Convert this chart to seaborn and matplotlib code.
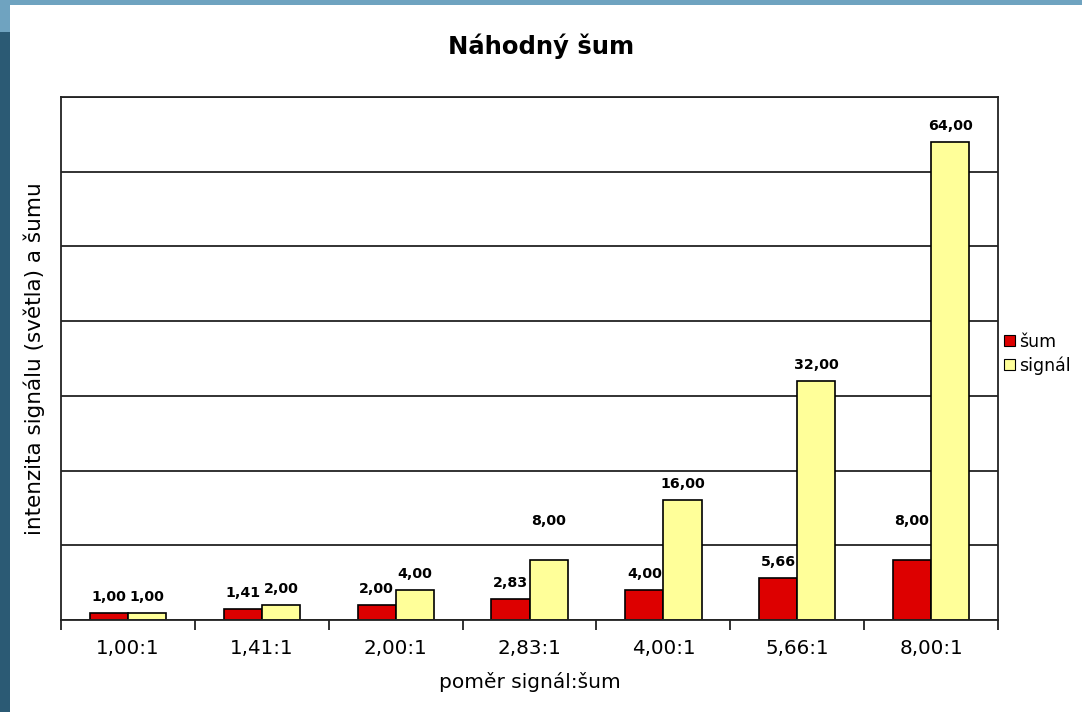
import matplotlib
matplotlib.use("Agg")
import matplotlib.pyplot as plt
from matplotlib.patches import Rectangle
import seaborn as sns
import pandas as pd
import numpy as np

categories = ["1,00:1", "1,41:1", "2,00:1", "2,83:1", "4,00:1", "5,66:1", "8,00:1"]
noise = [1.00, 1.41, 2.00, 2.83, 4.00, 5.66, 8.00]
signal = [1.00, 2.00, 4.00, 8.00, 16.00, 32.00, 64.00]
series_names = ["šum", "signál"]
series_colors = ["#dd0000", "#ffff99"]

df = pd.DataFrame({
    "pomer": categories * 2,
    "hodnota": noise + signal,
    "rada": [series_names[0]] * len(noise) + [series_names[1]] * len(signal),
})

sns.set_theme(style="white")
plt.rcParams["font.family"] = ["DejaVu Sans"]
plt.rcParams["text.color"] = "black"
plt.rcParams["axes.labelcolor"] = "black"
plt.rcParams["xtick.color"] = "black"

fig = plt.figure(figsize=(10.82, 7.12), dpi=100)
fig.patch.set_facecolor("white")

# slide frame bands
fig.add_artist(Rectangle((0, 0.993), 1, 0.007, transform=fig.transFigure,
                         facecolor="#6fa3c0", edgecolor="none"))
fig.add_artist(Rectangle((0, 0), 0.0095, 0.955, transform=fig.transFigure,
                         facecolor="#2b5a74", edgecolor="none"))
fig.add_artist(Rectangle((0, 0.955), 0.0095, 0.04, transform=fig.transFigure,
                         facecolor="#6fa3c0", edgecolor="none"))

ax = fig.add_axes([0.0564, 0.1292, 0.866, 0.7346])
sns.barplot(data=df, x="pomer", y="hodnota", hue="rada", palette=series_colors,
            width=0.57, gap=0, edgecolor="black", linewidth=1.2, ax=ax,
            legend=False, saturation=1)

grid_step = 10
ax.set_ylim(0, 70)
ax.set_xlim(-0.5, len(categories) - 0.5)
ax.set_yticks(np.arange(0, 71, grid_step))
ax.set_yticklabels([])
ax.tick_params(axis="y", length=0)
ax.yaxis.grid(True, color="#222222", linewidth=1.3)
ax.set_axisbelow(True)
for s in ax.spines.values():
    s.set_color("#222222")
    s.set_linewidth(1.3)

ax.set_xticks(range(len(categories)))
ax.set_xticklabels(categories, fontsize=14.3)
ax.tick_params(axis="x", which="major", length=0, pad=14)
ax.set_xticks(np.arange(-0.5, len(categories), 1), minor=True)
ax.tick_params(axis="x", which="minor", length=7, width=1.3, color="#222222",
               direction="out", bottom=True)

# value labels above bars; a label that would sit on a gridline is lifted above it
units_per_px = 70 / 523.0
label_gap = 16 * units_per_px
for cont in ax.containers:
    for bar, val in zip(cont, cont.datavalues):
        y = bar.get_height() + label_gap
        nearest = round(y / grid_step) * grid_step
        if nearest > 0 and abs(y - nearest) < 1.2:
            y = nearest + 3.25
        ax.text(bar.get_x() + bar.get_width() / 2, y,
                f"{val:.2f}".replace(".", ","),
                ha="center", va="center", fontsize=10.2, fontweight="bold",
                color="black")

ax.set_xlabel("poměr signál:šum", fontsize=14.5, labelpad=10)
ax.set_ylabel("intenzita signálu (světla) a šumu", fontsize=15.5, labelpad=8)
fig.suptitle("Náhodný šum", fontsize=17.5, fontweight="bold", y=0.953)

handles = [Rectangle((0, 0), 1, 1, facecolor=c, edgecolor="black", linewidth=0.8)
           for c in series_colors]
fig.legend(handles, series_names, loc="center left", bbox_to_anchor=(0.920, 0.503),
           frameon=False, fontsize=12.5, handlelength=0.6, handleheight=0.6,
           handletextpad=0.25, labelspacing=0.3, borderpad=0)

fig.savefig("out.png", dpi=100)
